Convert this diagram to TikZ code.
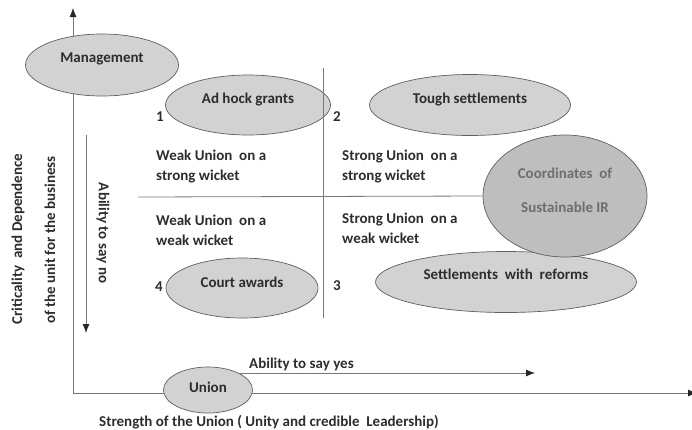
\documentclass[tikz,border=0pt]{standalone}
\usepackage{fontspec}
\setmainfont{Carlito}
\usepackage{tikz}
\usetikzlibrary{shapes.geometric, positioning, arrows.meta}
\definecolor{ovalgray}{RGB}{210,210,210}
\definecolor{coordgray}{RGB}{190,190,190}
\definecolor{rimgray}{RGB}{95,95,95}
\definecolor{axisgray}{RGB}{120,120,120}
\definecolor{inkgray}{RGB}{45,45,45}
\definecolor{coordink}{RGB}{110,110,110}

\begin{document}
\begin{tikzpicture}[x=1pt, y=-1pt, text=inkgray,
		font=\fontsize{15}{18}\selectfont\bfseries,
		oval/.style={ellipse, draw=rimgray, fill=ovalgray, line width=0.7pt, inner sep=0pt},
		lift/.style={text height=9pt, text depth=#1},
		ax/.style={draw=axisgray, line width=0.8pt},
		arr/.style={-{Latex[length=9pt, width=7pt, color=black!85]}},
		cell/.style={anchor=west, align=left, inner sep=0pt, font=\fontsize{15}{20}\selectfont\bfseries}]
			\useasboundingbox (0,0) rectangle (692,429);

			% axes
			\coordinate (origin) at (73,393);
			\coordinate (ytop) at (73,8);
			\coordinate (xend) at (697,393);
			\draw[ax, arr] (origin) -- (ytop);
			\draw[ax, arr] (origin) -- (xend);

			\coordinate (nostart) at (86,135);
			\coordinate (noend) at (86,333);
			\draw[ax, arr] (nostart) -- (noend);

			\node[rotate=90] (crit) at (18,239) {Criticality\ \ and Dependence};
			\node[rotate=90] (unit) at (50,240) {of the unit for the business};
			\node[rotate=-90] (sayno) at (103,233) {Ability to say no};

			% ovals
			\node[oval, lift=14pt, minimum width=153pt, minimum height=62pt] (mgmt) at (102,65) {Management};
			\node[oval, lift=12pt, minimum width=165pt, minimum height=60pt] (adhoc) at (248,105) {Ad hock grants};
			\node[oval, lift=12pt, minimum width=201pt, minimum height=61pt] (tough) at (470,105) {Tough settlements};
			\node[oval, lift=10pt, minimum width=152pt, minimum height=60pt] (court) at (242,288) {Court awards};
			\node[oval, lift=14pt, minimum width=261pt, minimum height=61pt] (reform) at (506,282) {Settlements\ \ with\ \ reforms};
			\node[oval, lift=4pt, minimum width=89pt, minimum height=46pt] (union) at (208,390) {Union};

			% quadrants
			\coordinate (vtop) at (323,68);
			\coordinate (vbot) at (323,318);
			\coordinate (hleft) at (138,197);
			\draw[ax] (vtop) -- (vbot);

			\node[oval, fill=coordgray, minimum width=164pt, minimum height=122pt] (coord) at (565,196) {};
			\draw[ax] (hleft) -- (coord.west);
			\node[text=coordink] (coordA) at (565,173) {Coordinates\ \ of};
			\node[text=coordink] (coordB) at (565,207) {Sustainable IR};

			\node (n1) at (160,117) {1};
			\node (n2) at (337,117) {2};
			\node (n3) at (337,286) {3};
			\node (n4) at (159,287) {4};

			\node[cell] (wstrong) at (156,167) {Weak Union\ \ on a\\strong wicket};
			\node[cell] (wweak) at (156,230) {Weak Union\ \ on a\\weak wicket};
			\node[cell] (sstrong) at (342,167) {Strong Union\ \ on a\\strong wicket};
			\node[cell] (sweak) at (342,228) {Strong Union\ \ on a\\weak wicket};

			% ability to say yes
			\coordinate (yesend) at (535,373);
			\draw[ax, arr] (yesend -| union.30) -- (yesend);
			\node[anchor=west, inner sep=0pt] (sayyes) at (249,364) {Ability to say yes};

			\node[anchor=west, inner sep=0pt] (strength) at (99,422) {Strength of the Union ( Unity and credible\ \ Leadership)};
		\end{tikzpicture}
\end{document}
